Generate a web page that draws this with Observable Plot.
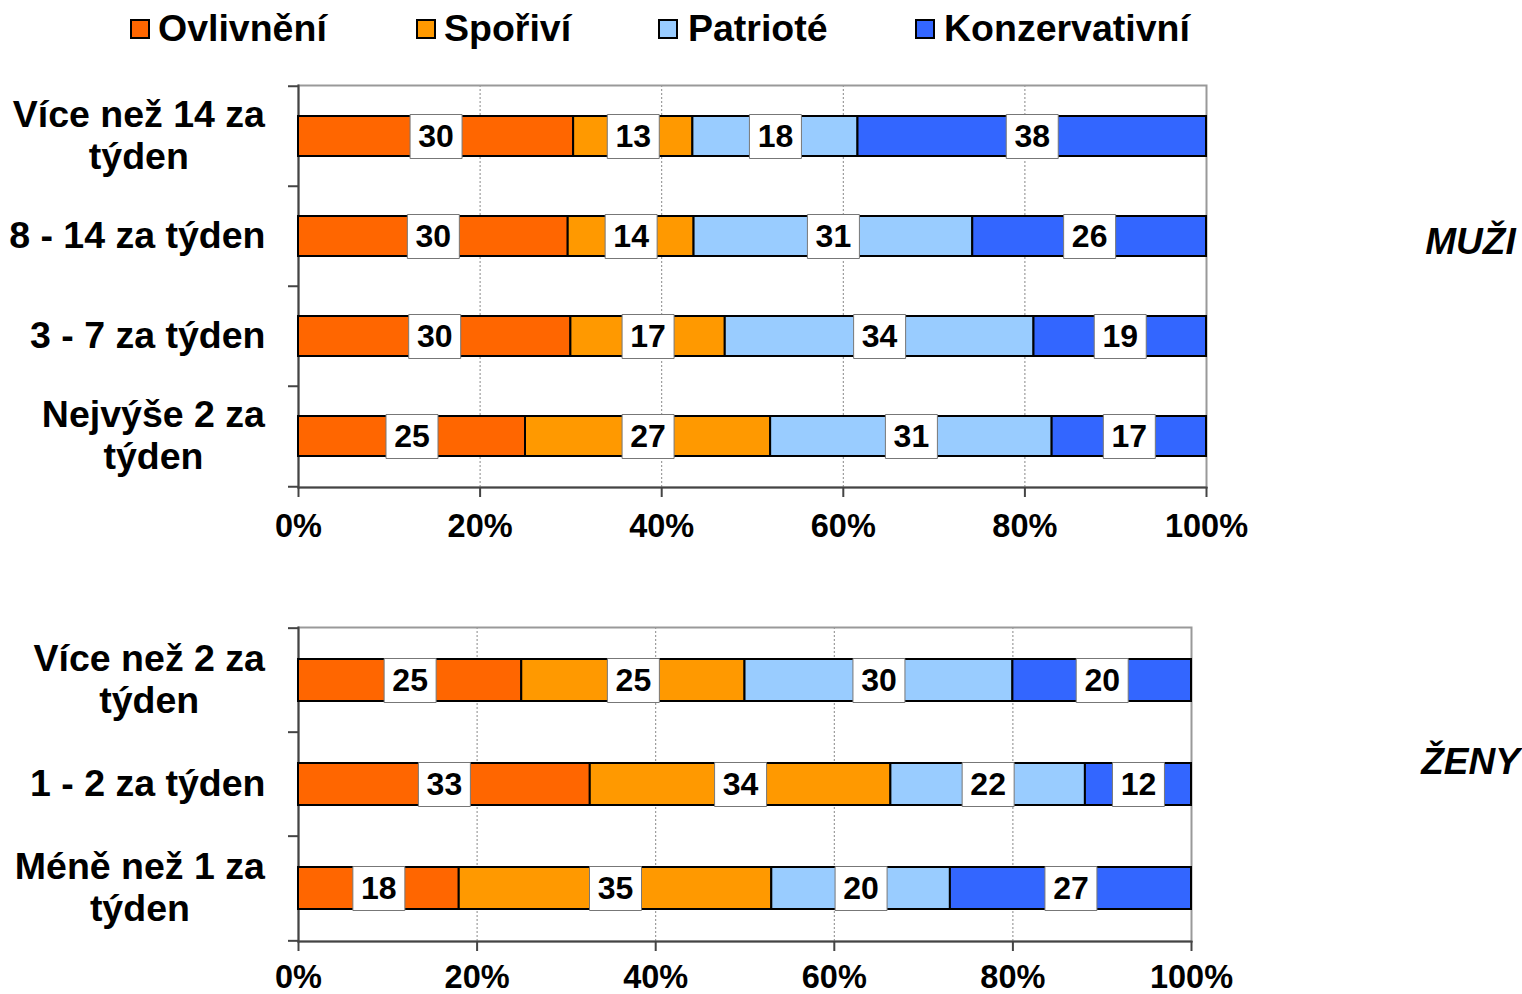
<!DOCTYPE html>
<html><head><meta charset="utf-8">
<script src="https://cdn.jsdelivr.net/npm/d3@7"></script>
<script src="https://cdn.jsdelivr.net/npm/@observablehq/plot@0.6"></script>
<style>
body{margin:0;background:#fff;width:1522px;height:994px;position:relative;overflow:hidden;font-family:"Liberation Sans",Arial,sans-serif;}
.sq{position:absolute;top:19px;width:16px;height:16px;border:2px solid #000;box-sizing:content-box;}
.lt{position:absolute;top:10px;font-size:37.5px;line-height:37.5px;font-weight:bold;color:#000;white-space:nowrap;}
#top,#bottom{position:absolute;left:0;}
svg{overflow:visible;}
</style></head><body>
<div id="legend"></div>
<div id="top" style="top:0px"></div>
<div id="bottom" style="top:590px"></div>
<script>
const types = ["Ovlivnění","Spořiví","Patrioté","Konzervativní"];
const colors = ["#FF6600","#FF9900","#99CCFF","#3366FF"];
const menCategories = ["Více než 14 za\ntýden","8 - 14 za týden","3 - 7 za týden","Nejvýše 2 za\ntýden"];
const menOvlivneni = [30,30,30,25];
const menSporivi = [13,14,17,27];
const menPatriote = [18,31,34,31];
const menKonzervativni = [38,26,19,17];
const womenCategories = ["Více než 2 za\ntýden","1 - 2 za týden","Méně než 1 za\ntýden"];
const womenOvlivneni = [25,33,18];
const womenSporivi = [25,34,35];
const womenPatriote = [30,22,20];
const womenKonzervativni = [20,12,27];
const xTicks = [0,0.2,0.4,0.6,0.8,1];
const panelLabels = ["MUŽI","ŽENY"];

// legend
const legendPos = [[130,158],[416,444],[658,688],[915,944]];
const legend = document.getElementById("legend");
types.forEach((t,i)=>{
  const s = document.createElement("div"); s.className="sq"; s.style.left=legendPos[i][0]+"px"; s.style.background=colors[i]; legend.appendChild(s);
  const l = document.createElement("div"); l.className="lt"; l.style.left=legendPos[i][1]+"px"; l.textContent=t; legend.appendChild(l);
});

function toRows(cats, series){
  const rows=[];
  cats.forEach((c,i)=>series.forEach((s,j)=>rows.push({cat:c,type:types[j],value:s[i]})));
  return rows;
}

const box = {draw(ctx){ctx.rect(-26,-22,52,44);}};

function chart(el, cats, rows, o){
  const frameW = 1522 - 298 - o.marginRight;
  const frameH = o.height - o.marginTop - o.marginBottom;
  const step = frameH / cats.length;
  const stk = (opts)=>Plot.stackX({x:"value", y:"cat", z:"type", offset:"normalize", ...opts});
  const p = Plot.plot({
    width:1522, height:o.height, marginLeft:298, marginRight:o.marginRight, marginTop:o.marginTop, marginBottom:o.marginBottom,
    style:{fontFamily:'"Liberation Sans", Arial, sans-serif', fontWeight:"bold", color:"#000", background:"transparent", overflow:"visible"},
    x:{domain:[0,1], label:null},
    y:{domain:cats, paddingInner:0.6, paddingOuter:0.3, label:null},
    color:{domain:types, range:colors},
    marks:[
      Plot.gridX(xTicks.slice(1,-1), {stroke:"#888", strokeOpacity:1, strokeDasharray:"2,2", strokeWidth:1}),
      Plot.frame({stroke:"#999", strokeWidth:2}),
      Plot.frame({anchor:"left", stroke:"#444", strokeWidth:2}),
      Plot.frame({anchor:"bottom", stroke:"#444", strokeWidth:2}),
      Plot.barX(rows, stk({fill:"type", stroke:"#000", strokeWidth:2})),
      Plot.dot(rows, stk({symbol:box, fill:"#fff", stroke:"#777", strokeWidth:1})),
      Plot.text(rows, stk({text:"value", fontSize:32, fontWeight:"bold", fill:"#000"})),
      Plot.axisX({ticks:xTicks, tickFormat:d=>Math.round(d*100)+"%", tickSize:10, tickPadding:o.tickPadding, fontSize:32.5, fontWeight:"bold", stroke:"#444", strokeWidth:2, label:null}),
      Plot.axisY({tickSize:0, tickPadding:33, fontSize:37.5, fontWeight:"bold", textAnchor:"middle", lineHeight:1.12, label:null}),
      Plot.ruleY(cats, {dy:-step/2, dx:-10, insetRight:frameW-10, stroke:"#444", strokeWidth:2}),
      Plot.ruleY([cats[cats.length-1]], {dy:step/2, dx:-10, insetRight:frameW-10, stroke:"#444", strokeWidth:2}),
      Plot.text([o.label], {frameAnchor:"right", dx:o.labelDx, dy:o.labelDy, textAnchor:"middle", fontSize:37, fontStyle:"italic", fontWeight:"bold", fill:"#000"})
    ]
  });
  el.appendChild(p);
  // center the lines of each category label inside its right-aligned block
  p.querySelectorAll('g[aria-label="y-axis tick label"] text').forEach(t=>{
    const w = t.getBBox().width;
    const tr = t.getAttribute("transform") || "";
    t.setAttribute("transform", tr + ` translate(${-w/2},-2)`);
  });
  return p;
}

chart(document.getElementById("top"), menCategories,
  toRows(menCategories,[menOvlivneni,menSporivi,menPatriote,menKonzervativni]),
  {height:547, marginTop:85, marginBottom:60, marginRight:316, label:panelLabels[0], labelDx:264, labelDy:-44, tickPadding:16});
chart(document.getElementById("bottom"), womenCategories,
  toRows(womenCategories,[womenOvlivneni,womenSporivi,womenPatriote,womenKonzervativni]),
  {height:404, marginTop:37, marginBottom:53, marginRight:331, label:panelLabels[1], labelDx:279, labelDy:-22, tickPadding:13});
</script>
</body></html>
